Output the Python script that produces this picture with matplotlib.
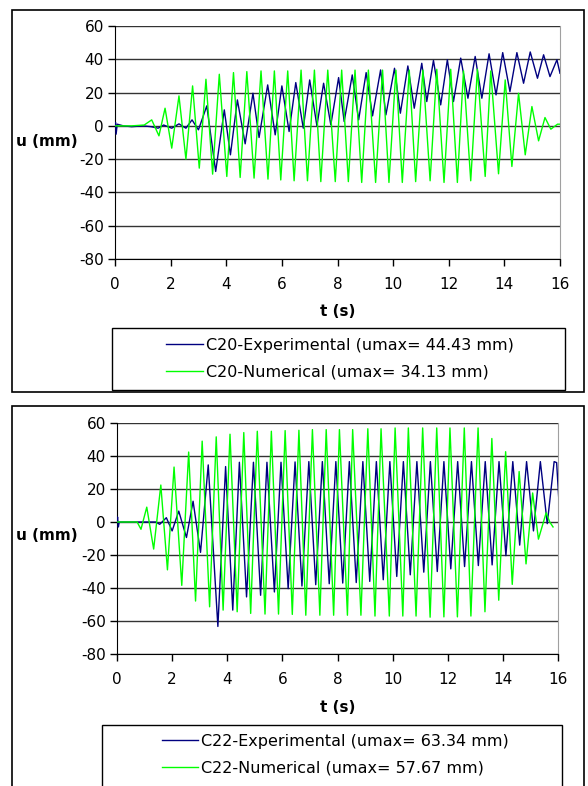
import matplotlib
matplotlib.use('Agg')
import matplotlib.pyplot as plt
from matplotlib.patches import Rectangle

plt.rcParams['font.family'] = 'DejaVu Sans'
plt.rcParams['axes.unicode_minus'] = False

# ---- data (peaks / troughs) ----
# C20 experimental
t_c20_exp = [0, 0.02, 0.04, 0.08, 0.3, 0.6, 1.0, 1.3, 1.55, 1.75, 2.04, 2.3, 2.55, 2.77, 3.0,
             3.3, 3.62, 3.93, 4.15, 4.4, 4.68, 4.96, 5.18, 5.49, 5.76, 6.0, 6.26, 6.5, 6.77,
             7.0, 7.26, 7.5, 7.76, 8.04, 8.24, 8.53, 8.76, 9.03, 9.26, 9.55, 9.74, 10.05,
             10.26, 10.53, 10.76, 11.03, 11.21, 11.45, 11.71, 11.95, 12.17, 12.43, 12.69,
             12.95, 13.19, 13.45, 13.7, 13.94, 14.2, 14.45, 14.69, 14.93, 15.19, 15.41,
             15.64, 15.89, 16.0]
u_c20_exp = [0, 2, -5, 1, 0, -0.5, 0, -0.5, -1.4, 0.5, -1.4, 1.2, -1.4, 3.6, -2.4,
             12, -27.4, 9.6, -17.4, 15.6, -10.8, 19.6, -7, 24.6, -5.4, 24, -3.4, 26, -1.4,
             27.6, 0, 25.6, 0.6, 29, 2.6, 30.6, 3.6, 32, 6, 33.6, 6.6, 34.6,
             7.6, 36, 10.6, 37.6, 14.6, 39.3, 12.6, 39.7, 14.6, 40.7, 16.6,
             41.7, 16.6, 43.3, 18.6, 44, 20.6, 44, 25.6, 44.4, 28.6, 42.7,
             29.6, 39.7, 31.6]

# C20 numerical
t_c20_num = [0, 0.6, 1.05, 1.32, 1.58, 1.80, 2.04, 2.30, 2.55, 2.79, 3.03, 3.27, 3.51, 3.75,
             4.02, 4.26, 4.50, 4.74, 5.00, 5.25, 5.50, 5.73, 5.96, 6.21, 6.44, 6.69, 6.92,
             7.17, 7.40, 7.65, 7.92, 8.15, 8.39, 8.63, 8.87, 9.11, 9.37, 9.62, 9.85, 10.10,
             10.33, 10.58, 10.81, 11.07, 11.33, 11.57, 11.83, 12.07, 12.31, 12.53, 12.79,
             13.03, 13.31, 13.51, 13.79, 14.03, 14.27, 14.51, 14.75, 14.99, 15.23, 15.46,
             15.67, 15.91, 16.0]
u_c20_num = [0, 0, 0.5, 3.6, -6, 10.6, -13.4, 18, -20, 24, -25.4, 28, -29, 31,
             -30.4, 32, -31, 32.6, -31.4, 33, -32, 33, -32.5, 33, -33, 33.5, -33,
             33.5, -33.5, 33.5, -33.5, 33.5, -33.5, 33.5, -34, 33.5, -34, 33.5, -34, 33.5,
             -34, 33.5, -33.5, 33.5, -33, 34, -34, 34, -34, 33, -33,
             34, -30.4, 33, -28.8, 27.6, -24.4, 19.6, -17.4, 11.6, -9, 5,
             -2, 1, 1]

# C22 experimental
t_c22_exp = [0, 0.02, 0.05, 0.08, 1.4, 1.55, 1.79, 2.0, 2.24, 2.52, 2.76, 3.03, 3.31, 3.66,
             3.94, 4.2, 4.44, 4.7, 4.95, 5.21, 5.44, 5.71, 5.95, 6.21, 6.46, 6.71, 6.96,
             7.21, 7.45, 7.70, 7.94, 8.19, 8.43, 8.68, 8.92, 9.17, 9.41, 9.66, 9.90, 10.15,
             10.39, 10.64, 10.88, 11.13, 11.37, 11.62, 11.86, 12.11, 12.36, 12.61, 12.86,
             13.11, 13.36, 13.61, 13.86, 14.11, 14.36, 14.61, 14.86, 15.11, 15.36, 15.61,
             15.86, 15.95, 16.05]
u_c22_exp = [0, 3, -3, 0, 0, -1.4, 2.6, -5.4, 6.6, -9.4, 12.6, -18.4, 34.6, -63.3,
             33.6, -53.4, 36.2, -45.4, 36.2, -44.4, 36.2, -42.4, 36.2, -40.4, 36.4, -38.8, 36.6,
             -38, 36.6, -37.4, 36.6, -37, 36.6, -36.7, 36.6, -36, 36.6, -35, 36.6, -33,
             36.6, -32, 36.6, -30.4, 36.6, -30, 36.6, -28.4, 36.6, -27, 36.6,
             -26.4, 36.6, -26, 36.6, -20.4, 36.6, -14, 36.6, -5.4, 36.6, -1,
             36.6, 36, 8]

# C22 numerical
t_c22_num = [0, 0.73, 0.87, 1.08, 1.33, 1.59, 1.83, 2.07, 2.35, 2.6, 2.85, 3.09, 3.36, 3.6,
             3.85, 4.1, 4.36, 4.6, 4.85, 5.09, 5.37, 5.6, 5.86, 6.1, 6.36, 6.6, 6.85,
             7.09, 7.36, 7.59, 7.86, 8.07, 8.36, 8.55, 8.85, 9.10, 9.36, 9.58, 9.88, 10.09,
             10.37, 10.57, 10.85, 11.09, 11.36, 11.6, 11.86, 12.08, 12.35, 12.6, 12.84,
             13.1, 13.35, 13.6, 13.85, 14.1, 14.34, 14.59, 14.84, 15.08, 15.29, 15.57,
             15.7, 15.82]
u_c22_num = [0, 0, -4.4, 9, -16.4, 22.4, -29, 33.3, -38.4, 42.4, -47.9, 49, -51.4, 51.6,
             -53.4, 53.2, -54.4, 54.2, -55.4, 55, -55.8, 55, -55.8, 55.4, -56, 55.6, -56.5,
             56, -56.5, 56, -56.5, 56, -56.5, 56, -56.5, 56.5, -57, 56.5, -57, 57,
             -57, 57, -57, 57, -57.7, 57, -57.5, 57, -57.5, 57, -57,
             57, -54.4, 50.6, -47.4, 42.6, -37.8, 30.6, -25.4, 17.6, -10.4, 5.6,
             0, -3]

t_ticks = [0, 2, 4, 6, 8, 10, 12, 14, 16]
u_ticks = [-80, -60, -40, -20, 0, 20, 40, 60]

lab_c20 = ['C20-Experimental (umax= 44.43 mm)', 'C20-Numerical (umax= 34.13 mm)']
lab_c22 = ['C22-Experimental (umax= 63.34 mm)', 'C22-Numerical (umax= 57.67 mm)']

W, H = 588, 786
fig = plt.figure(figsize=(W / 100, H / 100), dpi=100)


def fx(x):
    return x / W


def fy(y):
    return 1 - y / H


def panel(box, t1, u1, t2, u2, labels, frame, leg_box, leg_c, ylab_y, xlab_y):
    x0, y0, x1, y1 = box
    ax = fig.add_axes([fx(x0), fy(y1), (x1 - x0) / W, (y1 - y0) / H])
    l1, = ax.plot(t1, u1, color='#000080', lw=1.0, zorder=3)
    l2, = ax.plot(t2, u2, color='#00ff00', lw=1.0, zorder=4)
    ax.set_xlim(0, 16)
    ax.set_ylim(-80, 60)
    ax.set_xticks(t_ticks)
    ax.set_yticks(u_ticks)
    ax.grid(axis='y', color='#333333', lw=1.0, zorder=1)
    ax.spines['top'].set_visible(False)
    ax.spines['right'].set_color('#a0a0a0')
    ax.spines['left'].set_color('black')
    ax.spines['bottom'].set_color('black')
    ax.tick_params(axis='both', direction='out', length=5, width=1, labelsize=11)
    ax.tick_params(axis='y', pad=3)
    ax.tick_params(axis='x', pad=8)
    # outer chart frame
    fx0, fy0, fx1, fy1 = frame
    fig.add_artist(Rectangle((fx(fx0), fy(fy1)), (fx1 - fx0) / W, (fy1 - fy0) / H,
                             transform=fig.transFigure, fill=False, ec='black', lw=1.2))
    fig.text(fx(16), fy(ylab_y), 'u (mm)', fontsize=11, fontweight='bold',
             ha='left', va='center')
    fig.text(fx((x0 + x1) / 2), fy(xlab_y), 't (s)', fontsize=11, fontweight='bold',
             ha='center', va='center')
    # legend with its own box
    lx0, ly0, lx1, ly1 = leg_box
    fig.add_artist(Rectangle((fx(lx0), fy(ly1)), (lx1 - lx0) / W, (ly1 - ly0) / H,
                             transform=fig.transFigure, fill=False, ec='black', lw=1.0))
    fig.legend([l1, l2], labels, loc='center', bbox_to_anchor=(fx(leg_c[0]), fy(leg_c[1])),
               frameon=False, fontsize=11.5, handlelength=2.3, handletextpad=0.15,
               labelspacing=0.75)
    return ax


panel((115, 26, 560, 259), t_c20_exp, u_c20_exp, t_c20_num, u_c20_num, lab_c20,
      (12, 10, 584, 392), (112, 328, 565, 390), (340, 359), 142, 311)
panel((117, 423, 558, 654), t_c22_exp, u_c22_exp, t_c22_num, u_c22_num, lab_c22,
      (12, 406, 584, 820), (102, 725, 562, 820), (335, 755), 536, 708)

fig.savefig('out.png', dpi=100)
